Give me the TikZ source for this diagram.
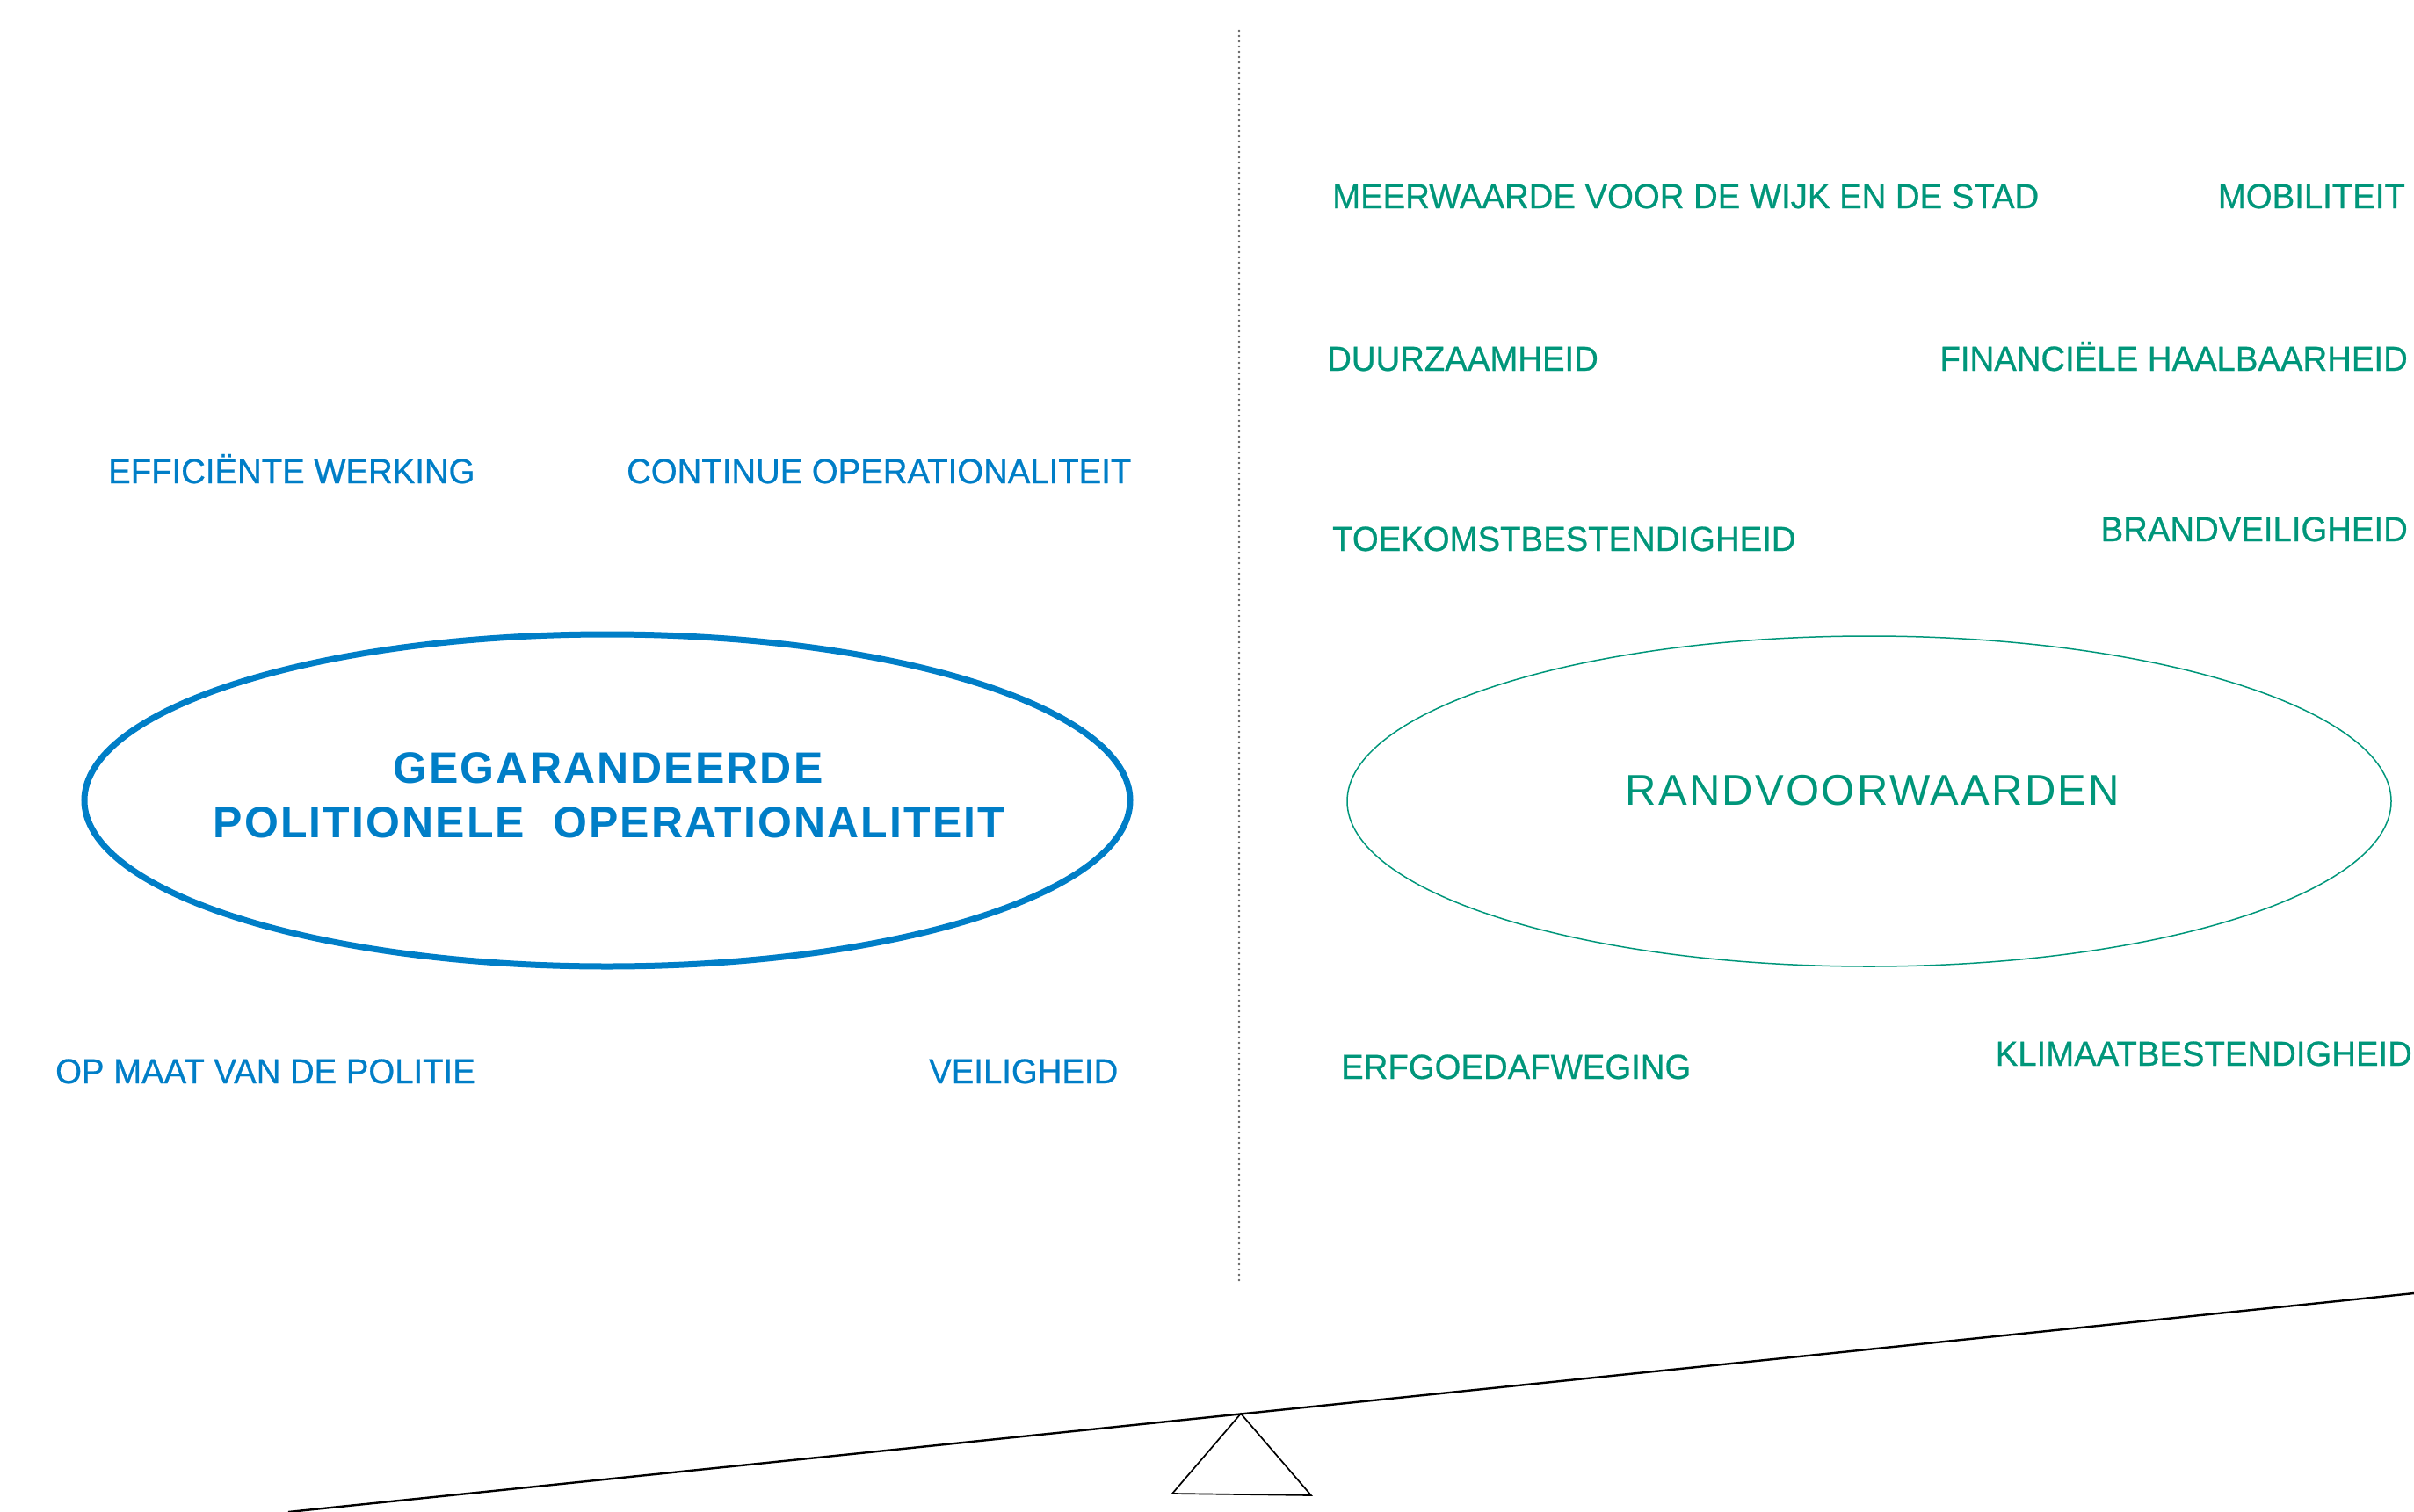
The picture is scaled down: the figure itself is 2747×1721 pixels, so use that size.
\documentclass[tikz,border=0pt]{standalone}
\usepackage{fontspec}
\setmainfont{Liberation Sans}
\newfontfamily\labelfont[FakeStretch=0.97,FakeBold=0.6]{Liberation Sans}
\newfontfamily\titlefont[LetterSpace=4.2]{Liberation Sans}
\newfontfamily\sidefont[LetterSpace=4.6]{Liberation Sans}
\usetikzlibrary{shapes.geometric}
\definecolor{polblue}{RGB}{0,126,199}
\definecolor{rimgreen}{RGB}{0,150,122}
\begin{document}
\begin{tikzpicture}[x=1pt,y=-1pt,
  lbl/.style={inner sep=0pt, font=\labelfont\fontsize{39.5}{46}\selectfont},
  bluelbl/.style={lbl, text=polblue},
  greenlbl/.style={lbl, text=rimgreen},
  headline/.style={inner sep=0pt, text=polblue, font=\titlefont\bfseries\fontsize{50}{60}\selectfont},
  sidehead/.style={inner sep=0pt, text=rimgreen, font=\sidefont\fontsize{49}{58}\selectfont},
  divider/.style={draw=black!62, line width=2.6pt, line cap=round, dash pattern=on 0pt off 6pt}]
\useasboundingbox (0,0) rectangle (2747,1721);

% dotted divider
\coordinate (div-top) at (1410,35);
\coordinate (div-bot) at (1410,1462);
\draw[divider] (div-top) -- (div-bot);

% left: the core requirement
\node[ellipse, draw=polblue, line width=7pt, minimum width=1190pt, minimum height=378pt] (core) at (691,911) {};
\node[headline, anchor=base] (core-l1) at (692,891) {GEGARANDEERDE};
\node[headline, anchor=base] (core-l2) at (693,953) {POLITIONELE\ \ OPERATIONALITEIT};

\node[bluelbl, anchor=base west] (eff) at (123,550) {EFFICIËNTE WERKING};
\node[bluelbl, anchor=base west] (cont) at (713,550) {CONTINUE OPERATIONALITEIT};
\node[bluelbl, anchor=base west] (maat) at (63,1233) {OP MAAT VAN DE POLITIE};
\node[bluelbl, anchor=base west] (veil) at (1057,1233) {VEILIGHEID};

% right: boundary conditions
\node[ellipse, draw=rimgreen, line width=1.5pt, minimum width=1188pt, minimum height=376pt] (rand) at (2127,912) {};
\node[sidehead, anchor=base] (rand-t) at (2131,916) {RANDVOORWAARDEN};

\node[greenlbl, anchor=base west] (meer) at (1516,237) {MEERWAARDE VOOR DE WIJK EN DE STAD};
\node[greenlbl, anchor=base east] (mob) at (2737,237) {MOBILITEIT};
\node[greenlbl, anchor=base west] (duur) at (1510,422) {DUURZAAMHEID};
\node[greenlbl, anchor=base east] (fin) at (2740,422) {FINANCIËLE HAALBAARHEID};
\node[greenlbl, anchor=base west] (toek) at (1516,627) {TOEKOMSTBESTENDIGHEID};
\node[greenlbl, anchor=base east] (brand) at (2740,616) {BRANDVEILIGHEID};
\node[greenlbl, anchor=base west] (erf) at (1526,1228) {ERFGOEDAFWEGING};
\node[greenlbl, anchor=base east] (klim) at (2745,1213) {KLIMAATBESTENDIGHEID};

% balance beam on its fulcrum
\coordinate (beam-l) at (328,1721);
\coordinate (beam-r) at (2747,1472);
\draw[line width=2.4pt] (beam-l) -- (beam-r);
\coordinate (pivot) at (1412,1609);
\coordinate (foot-l) at (1334,1700);
\coordinate (foot-r) at (1492,1702);
\draw[line width=1.7pt, line join=miter] (pivot) -- (foot-l) -- (foot-r) -- cycle;
\end{tikzpicture}
\end{document}
